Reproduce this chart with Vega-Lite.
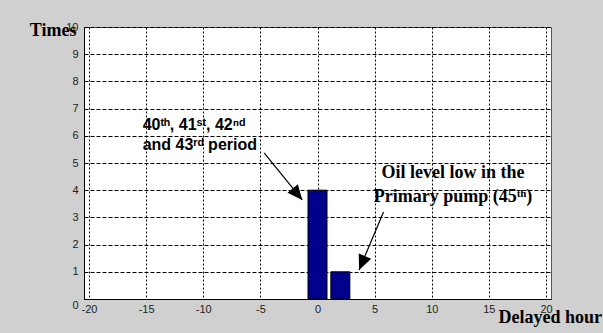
{
  "$schema": "https://vega.github.io/schema/vega-lite/v6.json",
  "width": 467,
  "height": 272,
  "autosize": {"type": "none"},
  "padding": {"left": 84, "top": 27, "right": 52, "bottom": 34},
  "background": "#d0d0d0",
  "config": {
    "view": {"fill": "white", "stroke": "#555555", "strokeWidth": 1},
    "axis": {
      "labelFont": "Liberation Sans",
      "labelFontSize": 11,
      "labelColor": "#222222",
      "ticks": false,
      "domainColor": "#000000",
      "domainWidth": 1,
      "gridColor": "#000000",
      "gridOpacity": 1,
      "gridWidth": 1,
      "titleFont": "Liberation Serif",
      "titleFontWeight": "bold",
      "titleFontSize": 18,
      "titleColor": "#000000"
    }
  },
  "datasets": {
    "bars": [
      {"hour": 0, "times": 4},
      {"hour": 2, "times": 1}
    ],
    "leftNote": [
      {"hour": -15.3, "times": 6.21, "text": "40ᵗʰ, 41ˢᵗ, 42ⁿᵈ"},
      {"hour": -15.3, "times": 5.48, "text": "and 43ʳᵈ period"}
    ],
    "rightNote": [
      {"hour": 11.86, "times": 4.45, "text": "Oil level low in the"},
      {"hour": 11.86, "times": 3.57, "text": "Primary pump (45ᵗʰ)"}
    ],
    "arrows": [
      {"id": 1, "hour": -4.67, "times": 5.37, "hour2": -1.33, "times2": 3.64},
      {"id": 2, "hour": 5.78, "times": 3.2, "hour2": 3.64, "times2": 1.07}
    ],
    "tips": [
      {"id": 1, "hour": -1.33, "times": 3.64},
      {"id": 2, "hour": 3.64, "times": 1.07}
    ]
  },
  "encoding": {
    "x": {
      "field": "hour", "type": "quantitative",
      "scale": {"domain": [-20, 20], "nice": false, "zero": false},
      "axis": {
        "values": [-20, -15, -10, -5, 0, 5, 10, 15, 20],
        "labelExpr": "'' + datum.value",
        "title": "Delayed hour",
        "titleAngle": 0,
        "titleAlign": "left",
        "titleBaseline": "alphabetic",
        "titleX": 414,
        "titleY": 23,
        "labelPadding": 4,
        "labelBaseline": "top",
        "labelFlush": false,
        "labelOverlap": false,
        "grid": true,
        "gridDash": [2, 2]
      }
    },
    "y": {
      "field": "times", "type": "quantitative",
      "scale": {"domain": [0, 10], "nice": false},
      "axis": {
        "values": [0, 1, 2, 3, 4, 5, 6, 7, 8, 9, 10],
        "labelExpr": "'' + datum.value",
        "title": "Times",
        "titleAngle": 0,
        "titleAlign": "right",
        "titleBaseline": "alphabetic",
        "titleX": -8,
        "titleY": 8,
        "labelPadding": 6,
        "labelFlush": false,
        "labelOverlap": false,
        "labelBaseline": {"condition": {"test": "datum.value == 0", "value": "top"}, "value": "middle"},
        "grid": true,
        "gridDash": [4, 2]
      }
    }
  },
  "layer": [
    {
      "data": {"name": "bars"},
      "mark": {"type": "bar", "width": 19, "color": "#00008c", "stroke": "#000000", "strokeWidth": 1}
    },
    {
      "data": {"name": "leftNote"},
      "mark": {"type": "text", "font": "Liberation Sans", "fontWeight": "bold", "fontSize": 16, "align": "left", "baseline": "alphabetic", "color": "#000000"},
      "encoding": {"text": {"field": "text"}}
    },
    {
      "data": {"name": "rightNote"},
      "mark": {"type": "text", "font": "Liberation Serif", "fontWeight": "bold", "fontSize": 18, "align": "center", "baseline": "alphabetic", "color": "#000000"},
      "encoding": {"text": {"field": "text"}}
    },
    {
      "data": {"name": "arrows"},
      "mark": {"type": "rule", "color": "#000000", "strokeWidth": 1.2},
      "encoding": {
        "x2": {"field": "hour2"},
        "y2": {"field": "times2"}
      }
    },
    {
      "data": {"name": "tips"},
      "transform": [{"filter": "datum.id == 1"}],
      "mark": {"type": "point", "shape": "M0,0L-0.45,1L0.45,1Z", "filled": true, "color": "#000000", "opacity": 1, "size": 900, "angle": 140}
    },
    {
      "data": {"name": "tips"},
      "transform": [{"filter": "datum.id == 2"}],
      "mark": {"type": "point", "shape": "M0,0L-0.45,1L0.45,1Z", "filled": true, "color": "#000000", "opacity": 1, "size": 900, "angle": 203}
    }
  ]
}
